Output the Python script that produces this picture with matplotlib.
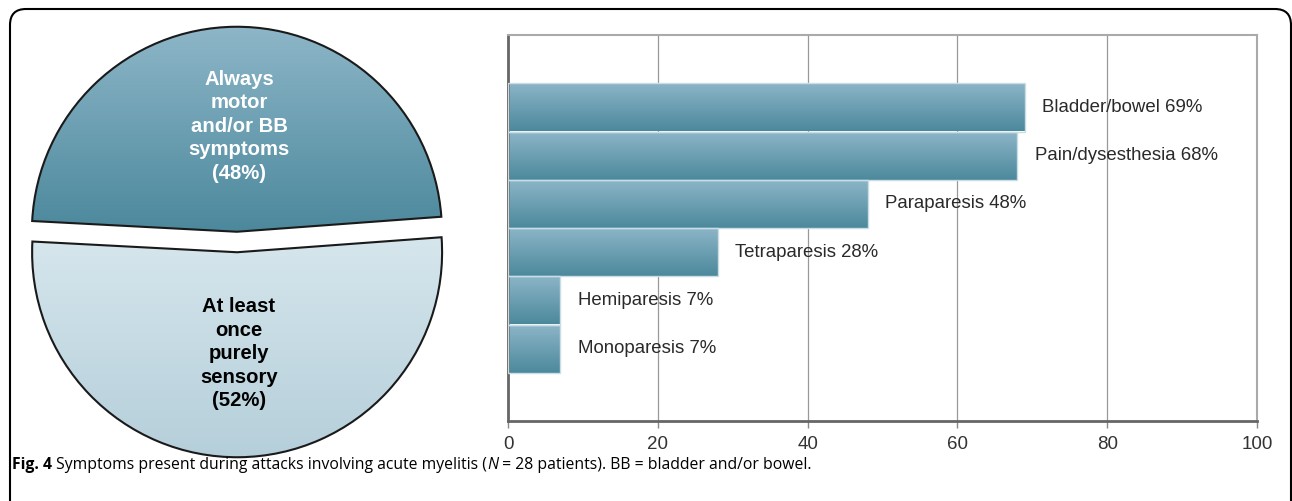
import numpy as np
import matplotlib
matplotlib.use("Agg")
import matplotlib.pyplot as plt
from matplotlib.patches import FancyBboxPatch
from matplotlib.colors import LinearSegmentedColormap

# data
pie_labels = ["Always\nmotor\nand/or BB\nsymptoms\n(48%)",
              "At least\nonce\npurely\nsensory\n(52%)"]
pie_values = [48, 52]

symptoms = ["Bladder/bowel", "Pain/dysesthesia", "Paraparesis",
            "Tetraparesis", "Hemiparesis", "Monoparesis"]
percent = [69, 68, 48, 28, 7, 7]
xticks = [0, 20, 40, 60, 80, 100]

caption_bold = "Fig. 4"
caption_a = " Symptoms present during attacks involving acute myelitis ("
caption_n = "N"
caption_b = " = 28 patients). BB = bladder and/or bowel."

plt.rcParams['font.family'] = ['Liberation Sans', 'DejaVu Sans']

W, H = 1292, 501
fig = plt.figure(figsize=(W / 100, H / 100), dpi=100)

# rounded frame, open at the bottom (inches)
frame = FancyBboxPatch((0.10, -1.0), 12.81, 5.01 - 0.09 + 1.0,
                       boxstyle="round,pad=0,rounding_size=0.16",
                       transform=fig.dpi_scale_trans, fill=False,
                       edgecolor="black", linewidth=1.5)
fig.patches.append(frame)

dark_grad = LinearSegmentedColormap.from_list("dg", ["#4c889c", "#8db6c8"])
light_grad = LinearSegmentedColormap.from_list("lg", ["#b5cfda", "#d6e6ed"])
grad = np.linspace(0, 1, 256).reshape(-1, 1)

# pie
axp = fig.add_axes([7 / W, 1 - 472 / H, 460 / W, 460 / H])
wedges, _ = axp.pie(pie_values, startangle=4.2, counterclock=True,
                    explode=[0.05, 0.05], radius=1,
                    wedgeprops=dict(edgecolor="#1a1a1a", linewidth=1.5))
for w, cm in zip(wedges, [dark_grad, light_grad]):
    w.set_facecolor("none")
    bb = w.get_path().get_extents(w.get_transform() - axp.transData)
    im = axp.imshow(grad, cmap=cm, origin="lower", aspect="auto",
                    extent=[bb.x0, bb.x1, bb.y0, bb.y1], zorder=0.5)
    im.set_clip_path(w)
axp.set_xlim(-1.122, 1.122)
axp.set_ylim(-1.122, 1.122)
axp.set_aspect("equal")
axp.axis("off")

axp.text(0.01, 0.565, pie_labels[0], ha="center", va="center", color="white",
         fontsize=14.6, fontweight="bold", linespacing=1.3)
axp.text(0.01, -0.545, pie_labels[1], ha="center", va="center", color="black",
         fontsize=14.6, fontweight="bold", linespacing=1.3)

# bars
ax = fig.add_axes([508 / W, 1 - 421 / H, 749 / W, 386 / H])
ypos = np.arange(len(symptoms))
bars = ax.barh(ypos, percent, height=1.0, color="none",
               edgecolor="#c9dde5", linewidth=1, zorder=3)
for b in bars:
    x0, y0 = b.get_x(), b.get_y()
    im = ax.imshow(grad, cmap=dark_grad, origin="lower", aspect="auto",
                   extent=[x0, x0 + b.get_width(), y0 + b.get_height(), y0],
                   zorder=2)
    im.set_clip_path(b)
for y, v, name in zip(ypos, percent, symptoms):
    ax.annotate(f"{name} {v}%", (v, y), xytext=(12.5, 0),
                textcoords="offset points", va="center", ha="left",
                fontsize=13.4, color="#2a2a2a", zorder=4)

ax.set_xlim(0, 100)
ax.set_ylim(len(symptoms) - 0.5 + 1, -1.5)
ax.set_xticks(xticks)
ax.set_yticks([])
ax.grid(axis="x", color="#999999", linewidth=0.9, zorder=1)
ax.set_axisbelow(True)
for s in ["top", "right"]:
    ax.spines[s].set_color("#aaaaaa")
    ax.spines[s].set_linewidth(1.5)
for s in ["left", "bottom"]:
    ax.spines[s].set_color("#666666")
    ax.spines[s].set_linewidth(2)
ax.tick_params(axis="x", length=5, width=1, color="#888888",
               labelsize=13.5, labelcolor="#333333", pad=6)

# caption
cap_font = ["Open Sans", "DejaVu Sans"]
cap_y = 1 - 469 / H
t1 = fig.text(12 / W, cap_y, caption_bold, fontsize=11.3,
              fontweight="bold", va="baseline", ha="left", family=cap_font)
fig.canvas.draw()
r = fig.canvas.get_renderer()


def after(prev, txt, **kw):
    bb = prev.get_window_extent(r)
    return fig.text(bb.x1 / W, cap_y, txt, fontsize=11.3, va="baseline",
                    ha="left", family=cap_font, **kw)


t2 = after(t1, caption_a)
t3 = after(t2, caption_n, style="italic")
t4 = after(t3, caption_b)

fig.savefig("out.png", dpi=100)
